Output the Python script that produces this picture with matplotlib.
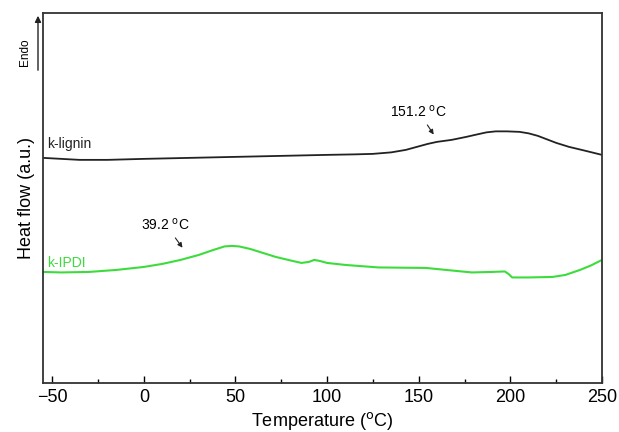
import matplotlib.pyplot as plt
from matplotlib.patches import FancyArrowPatch
from matplotlib.ticker import MultipleLocator

plt.rcParams['font.family'] = ['Liberation Sans', 'DejaVu Sans']

# k-lignin curve (temperature in C, heat flow in arbitrary units)
lignin_t = [-55, -45, -35, -20, 0, 25, 50, 75, 100, 115, 125, 135, 143, 150, 155, 160, 168, 176, 182, 187,
            192, 198, 205, 210, 215, 220, 225, 232, 240, 250]
lignin_hf = [225, 224, 223, 223, 224, 225, 226, 227, 228, 228.5, 229, 230.5, 233, 236.5, 239, 241, 243, 246, 248.5, 250.5,
             251.5, 251.5, 251, 249.5, 247, 243.5, 240, 236, 232.5, 228]

# k-IPDI curve
ipdi_t = [-55, -45, -30, -15, 0, 10, 20, 30, 38, 44, 48, 52, 58, 65, 72, 80, 86, 90, 93, 96,
          100, 110, 128, 154, 165, 179, 190, 197, 199, 201, 210, 223, 230, 238, 244, 250]
ipdi_hf = [111, 110.5, 111, 113, 116, 119, 123, 128, 133, 136.5, 137, 136.5, 134, 130, 126, 122.5, 120, 121, 123, 122,
           120, 118, 115.5, 115, 113, 110.5, 111, 111.5, 109, 105.5, 105.5, 106, 108, 113, 117.5, 123]

green = '#3ddc3d'

fig = plt.figure(figsize=(6.19, 4.32), dpi=100)
ax = fig.add_axes([0.0695, 0.1134, 0.903, 0.857])

ax.plot(lignin_t, lignin_hf, color='#222222', lw=1.3)
ax.plot(ipdi_t, ipdi_hf, color=green, lw=1.5)

ax.set_xlim(-55, 250)
ax.set_ylim(0, 370)
ax.xaxis.set_major_locator(MultipleLocator(50))
ax.xaxis.set_minor_locator(MultipleLocator(25))
ax.tick_params(axis='x', which='major', direction='in', length=5, width=1, labelsize=13, pad=4)
ax.tick_params(axis='x', which='minor', direction='in', length=3, width=1)
ax.set_yticks([])
for s in ax.spines.values():
    s.set_linewidth(1.3)
    s.set_color('#333333')

ax.set_xlabel('Temperature ($^{\\rm o}$C)', fontsize=13, labelpad=3)
ax.set_ylabel('Heat flow (a.u.)', fontsize=13, labelpad=6)

ax.text(-53, 235, 'k-lignin', fontsize=10, color='#222222')
ax.text(-53, 116, 'k-IPDI', fontsize=10, color=green)

ax.annotate('151.2 $^{\\rm o}$C', xy=(159, 246), xytext=(150, 266),
            fontsize=10, ha='center',
            arrowprops=dict(arrowstyle='-|>', color='#222222', lw=0.8, mutation_scale=7))
ax.annotate('39.2 $^{\\rm o}$C', xy=(22, 133), xytext=(12, 153),
            fontsize=10, ha='center',
            arrowprops=dict(arrowstyle='-|>', color='#222222', lw=0.8, mutation_scale=7))

# Endo arrow
fig.patches.append(FancyArrowPatch(
    (38 / 619, 1 - 73 / 432), (38 / 619, 1 - 13 / 432), transform=fig.transFigure,
    arrowstyle='-|>', mutation_scale=9, lw=1, color='#222222'))
fig.text(25 / 619, 1 - 52 / 432, 'Endo', rotation=90, fontsize=8.5, ha='center', va='center')

fig.savefig('out.png', dpi=100)
